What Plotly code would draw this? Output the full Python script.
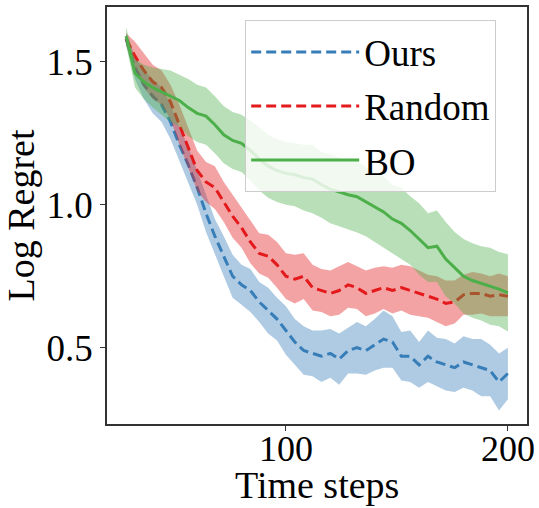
import plotly.graph_objects as go

steps = [28, 32, 36, 40, 44, 48, 52, 56, 60, 64, 68, 72, 76, 80, 84, 88, 92, 96, 100, 104,
         108, 112, 116, 120, 124, 128, 132, 136, 140, 144, 148, 152, 156, 160, 164, 168, 172,
         176, 180, 184, 188, 192, 196, 200]

ours_mean = [1.58, 1.48, 1.42, 1.38, 1.35, 1.29, 1.21, 1.14, 1.06, 0.97, 0.89, 0.82, 0.75, 0.72,
             0.70, 0.66, 0.63, 0.60, 0.56, 0.52, 0.49, 0.48, 0.47, 0.48, 0.46, 0.49, 0.50, 0.49,
             0.51, 0.53, 0.52, 0.47, 0.47, 0.44, 0.47, 0.45, 0.44, 0.43, 0.45, 0.44, 0.43, 0.42,
             0.38, 0.41]
ours_spread = [0.02, 0.04, 0.05, 0.06, 0.06, 0.06, 0.06, 0.065, 0.06, 0.065, 0.06, 0.07, 0.075,
               0.07, 0.075, 0.07, 0.08, 0.075, 0.085, 0.08, 0.085, 0.08, 0.09, 0.085, 0.09, 0.08,
               0.09, 0.085, 0.09, 0.10, 0.09, 0.085, 0.09, 0.08, 0.09, 0.085, 0.09, 0.085, 0.09,
               0.09, 0.10, 0.09, 0.10, 0.09]

rand_mean = [1.58, 1.52, 1.47, 1.43, 1.41, 1.36, 1.28, 1.20, 1.12, 1.08, 1.06, 1.01, 0.96, 0.92,
             0.87, 0.83, 0.82, 0.79, 0.75, 0.74, 0.75, 0.71, 0.70, 0.69, 0.70, 0.72, 0.71, 0.69,
             0.70, 0.71, 0.70, 0.71, 0.70, 0.69, 0.68, 0.67, 0.655, 0.66, 0.685, 0.69, 0.69, 0.68,
             0.685, 0.68]
rand_spread = [0.02, 0.05, 0.06, 0.06, 0.06, 0.06, 0.07, 0.07, 0.07, 0.07, 0.075, 0.07, 0.075,
               0.07, 0.075, 0.07, 0.075, 0.08, 0.08, 0.085, 0.08, 0.08, 0.075, 0.08, 0.085, 0.08,
               0.075, 0.08, 0.08, 0.075, 0.08, 0.08, 0.085, 0.08, 0.075, 0.08, 0.08, 0.075, 0.07,
               0.075, 0.07, 0.07, 0.075, 0.07]

bo_mean = [1.59, 1.46, 1.43, 1.41, 1.395, 1.38, 1.365, 1.34, 1.32, 1.31, 1.28, 1.245, 1.225, 1.215,
           1.19, 1.16, 1.135, 1.12, 1.11, 1.105, 1.095, 1.09, 1.07, 1.055, 1.045, 1.035, 1.028,
           1.01, 0.99, 0.975, 0.95, 0.935, 0.91, 0.88, 0.85, 0.855, 0.81, 0.78, 0.75, 0.735,
           0.725, 0.715, 0.705, 0.692]
bo_spread = [0.03, 0.05, 0.06, 0.07, 0.08, 0.09, 0.09, 0.10, 0.10, 0.10, 0.10, 0.10, 0.10, 0.10,
             0.105, 0.11, 0.11, 0.11, 0.11, 0.11, 0.115, 0.12, 0.115, 0.12, 0.12, 0.12, 0.125,
             0.12, 0.12, 0.125, 0.12, 0.125, 0.12, 0.125, 0.12, 0.125, 0.13, 0.125, 0.13, 0.13,
             0.13, 0.135, 0.13, 0.135]

series = [
    ("Ours", ours_mean, ours_spread, "#377eb8", "rgba(55,126,184,0.4)", "10px,5px"),
    ("Random", rand_mean, rand_spread, "#e41a1c", "rgba(228,26,28,0.4)", "10px,5px"),
    ("BO", bo_mean, bo_spread, "#4daf4a", "rgba(77,175,74,0.4)", "solid"),
]

fig = go.Figure()
for name, mean, spread, col, fcol, dash in series:
    upper = [m + s for m, s in zip(mean, spread)]
    lower = [m - s for m, s in zip(mean, spread)]
    fig.add_trace(go.Scatter(x=steps, y=mean, mode="lines", name=name, legendgroup=name,
                             line=dict(color=col, width=3, dash=dash)))
    fig.add_trace(go.Scatter(x=steps + steps[::-1], y=upper + lower[::-1], mode="lines",
                             fill="toself", fillcolor=fcol, line=dict(width=0),
                             showlegend=False, hoverinfo="skip", legendgroup=name))

font_family = "Liberation Serif"
fig.update_layout(
    width=539, height=508,
    margin=dict(l=107, r=12, t=7, b=84),
    plot_bgcolor="white", paper_bgcolor="white",
    font=dict(family=font_family, color="black", size=37),
    showlegend=True,
    legend=dict(x=0.329, y=0.968, xanchor="left", yanchor="top",
                bgcolor="rgba(255,255,255,0.8)", bordercolor="#cccccc", borderwidth=1,
                font=dict(family=font_family, size=37), tracegroupgap=3,
                itemwidth=108),
    xaxis=dict(range=[19.4, 208.6], tickvals=[100, 200], ticktext=["100", "200"],
               showgrid=False, zeroline=False, showline=True, linecolor="#333333",
               linewidth=1.5, mirror=True, ticks="outside", ticklen=5, tickwidth=1.2,
               tickcolor="#333333", tickfont=dict(size=36), automargin=False,
               ticklabelstandoff=-13),
    yaxis=dict(range=[0.233, 1.692], tickvals=[0.5, 1.0, 1.5], ticktext=["0.5", "1.0", "1.5"],
               showgrid=False, zeroline=False, showline=True, linecolor="#333333",
               linewidth=1.5, mirror=True, ticks="outside", ticklen=5, tickwidth=1.2,
               tickcolor="#333333", tickfont=dict(size=37), automargin=False,
               title=dict(text="Log Regret", font=dict(size=38), standoff=6)),
    annotations=[dict(text="Time steps", xref="paper", yref="paper", x=0.5, y=-0.146,
                      xanchor="center", yanchor="middle", showarrow=False,
                      font=dict(size=38, family=font_family, color="black"))],
)

fig.write_html("out.html")
